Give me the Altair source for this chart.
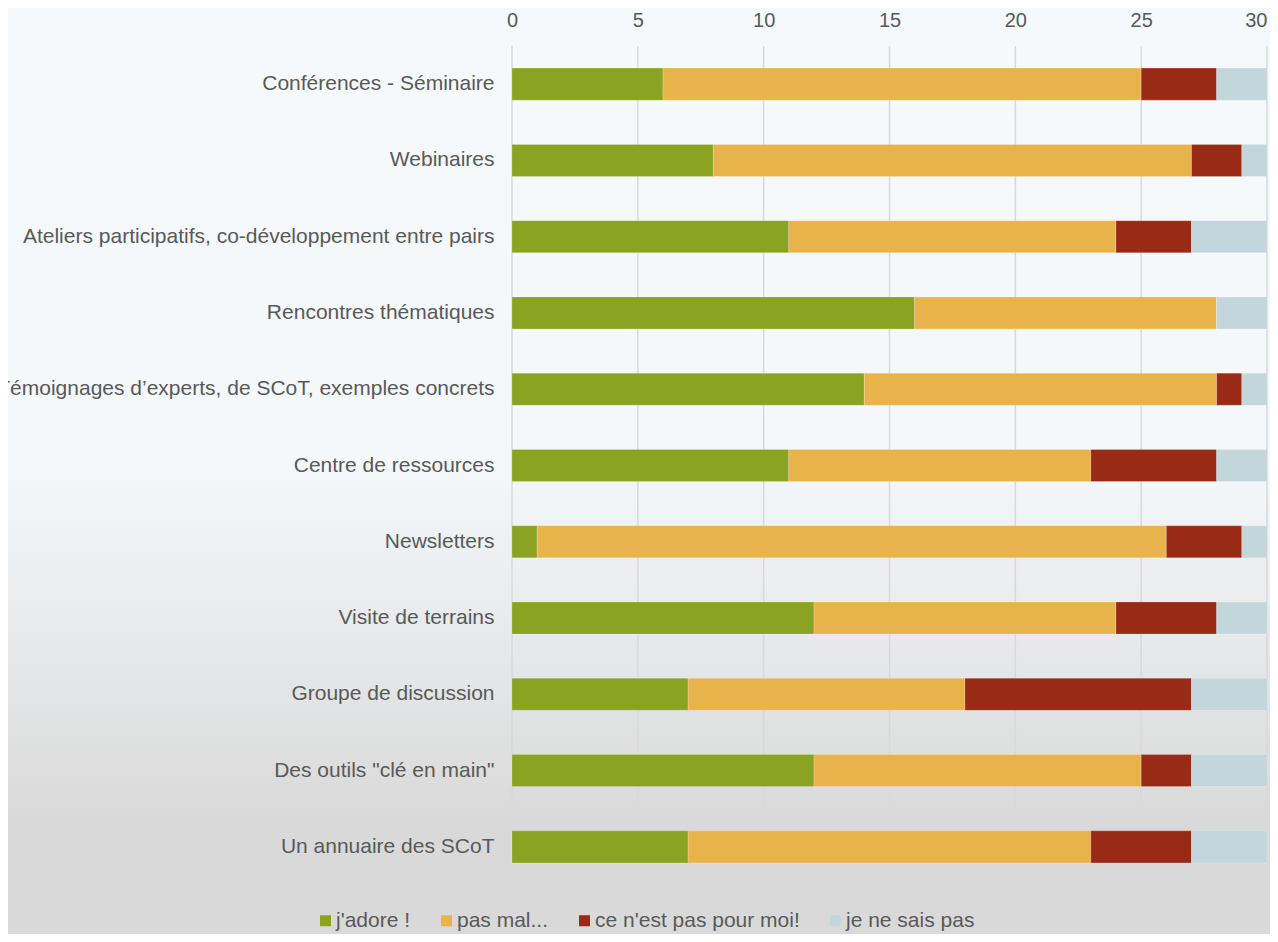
import altair as alt
import pandas as pd

categories = [
    "Conférences - Séminaire",
    "Webinaires",
    "Ateliers participatifs, co-développement entre pairs",
    "Rencontres thématiques",
    "Témoignages d’experts, de SCoT, exemples concrets",
    "Centre de ressources",
    "Newsletters",
    "Visite de terrains",
    "Groupe de discussion",
    'Des outils "clé en main"',
    "Un annuaire des SCoT",
]
series_names = ["j'adore !", "pas mal...", "ce n'est pas pour moi!", "je ne sais pas"]
adore = [6, 8, 11, 16, 14, 11, 1, 12, 7, 12, 7]
pas_mal = [19, 19, 13, 12, 14, 12, 25, 12, 11, 13, 16]
pas_pour_moi = [3, 2, 3, 0, 1, 5, 3, 4, 9, 2, 4]
ne_sais_pas = [2, 1, 3, 2, 1, 2, 1, 2, 3, 3, 3]
colors = ["#8ba222", "#e9b34b", "#982a16", "#c3d6dc"]
x_ticks = [0, 5, 10, 15, 20, 25, 30]

rows = []
for si, (name, vals) in enumerate(zip(series_names, [adore, pas_mal, pas_pour_moi, ne_sais_pas])):
    for cat, v in zip(categories, vals):
        rows.append({"cat": cat, "serie": name, "val": v, "ord": si})
df = pd.DataFrame(rows)
ticks_df = pd.DataFrame({"t": x_ticks})

FONT = "Liberation Sans"
TXT = "#595959"
W, H = 755, 839
PL, PT, PR, PB = 504, 38, 3, 49

bg = alt.Chart(alt.Data(values=[{}])).mark_rect(
    color=alt.Gradient(
        gradient="linear", x1=0, y1=0, x2=0, y2=1,
        stops=[
            alt.GradientStop(color="#f5f9fc", offset=0),
            alt.GradientStop(color="#f4f8fb", offset=0.49),
            alt.GradientStop(color="#e3e4e5", offset=0.74),
            alt.GradientStop(color="#d9d9d9", offset=0.88),
            alt.GradientStop(color="#d9d9d9", offset=1),
        ],
    )
).encode(
    x=alt.value(-PL), x2=alt.value(W + PR), y=alt.value(-PT), y2=alt.value(H + PB)
)

xscale = alt.Scale(domain=[0, 30], nice=False)

grid = alt.Chart(ticks_df).mark_rule(color="#d9d9d9", strokeWidth=1.5).encode(
    x=alt.X("t:Q", scale=xscale, title=None,
            axis=alt.Axis(orient="top", values=x_ticks, labelFontSize=20,
                          labelColor=TXT, labelFont=FONT, ticks=False,
                          domain=False, labelPadding=16, grid=False, zindex=1,
                          labelFlush=False,
                          labelAlign=alt.condition("datum.value == 30",
                                                   alt.value("right"),
                                                   alt.value("center")))),
    y=alt.value(0), y2=alt.value(H),
)

bars = alt.Chart(df).mark_bar(stroke="#ffffff", strokeWidth=0.6, strokeOpacity=0.35).encode(
    y=alt.Y("cat:N", sort=categories, title=None,
            scale=alt.Scale(paddingInner=0.58, paddingOuter=0.29),
            axis=alt.Axis(labelFontSize=21, labelColor=TXT, labelFont=FONT,
                          labelPadding=18, ticks=False, domain=False,
                          labelLimit=2000, grid=False, zindex=1)),
    x=alt.X("val:Q", stack="zero", title=None, scale=xscale),
    color=alt.Color("serie:N", sort=series_names,
                    scale=alt.Scale(domain=series_names, range=colors),
                    legend=alt.Legend(title=None, orient="none", direction="horizontal",
                                      legendX=-197, legendY=864,
                                      symbolType="square", symbolSize=121,
                                      symbolStrokeWidth=0, labelFontSize=21,
                                      labelColor=TXT, labelFont=FONT, labelLimit=1000,
                                      labelOffset=0, columnPadding=25)),
    order=alt.Order("ord:Q", sort="ascending"),
)

chart = alt.layer(bg, grid, bars).properties(
    width=W, height=H,
    autosize=alt.AutoSizeParams(type="none"),
    padding={"left": PL, "top": PT, "right": PR, "bottom": PB},
).configure_view(stroke=None)

chart.save("out.html", embed_options={"renderer": "svg", "actions": False})
